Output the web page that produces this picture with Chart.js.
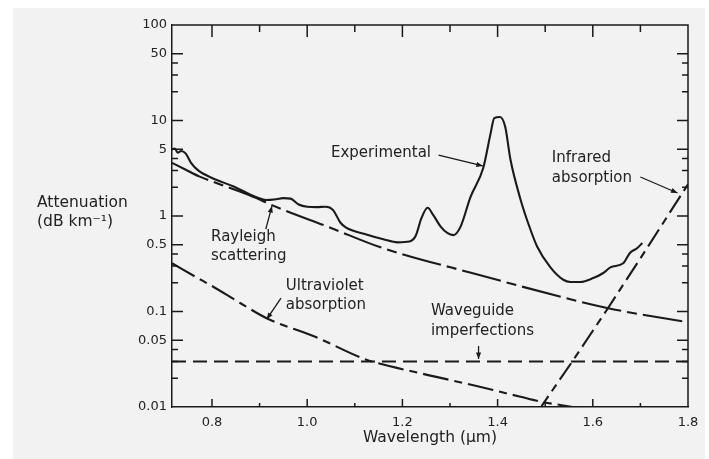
<!DOCTYPE html>
<html><head><meta charset="utf-8">
<script src="https://cdn.jsdelivr.net/npm/chart.js@4.4.1/dist/chart.umd.min.js"></script>
<style>html,body{margin:0;padding:0;background:#fff;}</style>
</head><body>
<canvas id="c" width="709" height="459"></canvas>
<script>
// ---- data ----
const expWavelength = [0.716,0.722,0.728,0.735,0.745,0.756,0.771,0.80,0.844,0.892,0.913,0.935,0.949,0.965,0.982,1.0,1.02,1.039,1.054,1.07,1.081,1.119,1.16,1.19,1.215,1.228,1.24,1.253,1.265,1.28,1.295,1.307,1.322,1.343,1.37,1.385,1.393,1.405,1.416,1.427,1.448,1.465,1.483,1.511,1.538,1.553,1.574,1.601,1.622,1.637,1.664,1.678,1.693,1.704];
const expAttenuation = [5.0,5.1,4.6,4.8,4.5,3.6,3.0,2.5,2.05,1.58,1.47,1.5,1.54,1.52,1.32,1.25,1.24,1.25,1.16,0.85,0.76,0.65,0.57,0.53,0.54,0.62,0.95,1.22,1.02,0.78,0.66,0.63,0.77,1.58,3.2,7.2,10.6,10.9,8.6,3.9,1.5,0.82,0.48,0.29,0.215,0.204,0.204,0.224,0.253,0.29,0.32,0.41,0.46,0.52];

const rayleighWavelength = [0.716,0.745,0.773,0.844,0.892,0.926,1.05,1.154,1.35,1.63,1.8];
const rayleighAttenuation = [3.6,3.05,2.6,1.92,1.55,1.3,0.75,0.47,0.25,0.109,0.077];

const uvWavelength = [0.716,0.777,0.8,0.86,0.917,1.018,1.123,1.239,1.358,1.448,1.494,1.568,1.59];
const uvAttenuation = [0.32,0.214,0.185,0.122,0.084,0.054,0.0315,0.0225,0.0165,0.0128,0.0113,0.0098,0.0093];

const irWavelength = [1.485,1.494,1.559,1.63,1.70,1.8];
const irAttenuation = [0.0086,0.0105,0.031,0.105,0.36,2.15];

const waveguideWavelength = [0.716,1.8];
const waveguideAttenuation = [0.03,0.03];

const xTickLabels = [0.8,1.0,1.2,1.4,1.6,1.8];
const xTickMarks = [0.8,0.9,1.0,1.1,1.2,1.3,1.4,1.5,1.6,1.7];
const yTickLabels = [100,50,10,5,1,0.5,0.1,0.05,0.01];
const yTickMarks = [50,40,30,20,10,5,4,3,2,1,0.5,0.4,0.3,0.2,0.1,0.05,0.04,0.03,0.02];

// ---- styling ----
const FONT = '"DejaVu Sans", "Open Sans", sans-serif';
const INK = '#1a1a1a';
const TEXT = '#222222';

const pts = (xs, ys) => xs.map((x, i) => ({x: x, y: ys[i]}));

// annotations given in data coordinates (wavelength, attenuation)
const annotations = [
  {texts: [['Experimental', 1.05, 4.57]], arrow: [[1.276, 4.35], [1.369, 3.34]]},
  {texts: [['Infrared', 1.514, 4.05], ['absorption', 1.514, 2.5]], arrow: [[1.700, 2.56], [1.778, 1.74]]},
  {texts: [['Rayleigh', 0.798, 0.60], ['scattering', 0.798, 0.381]], arrow: [[0.913, 0.73], [0.926, 1.27]]},
  {texts: [['Ultraviolet', 0.955, 0.185], ['absorption', 0.955, 0.117]], arrow: [[0.945, 0.138], [0.915, 0.083]]},
  {texts: [['Waveguide', 1.26, 0.101], ['imperfections', 1.26, 0.0625]], arrow: [[1.36, 0.0435], [1.36, 0.0318]]}
];

function drawArrow(ctx, x1, y1, x2, y2) {
  ctx.beginPath(); ctx.moveTo(x1, y1); ctx.lineTo(x2, y2); ctx.stroke();
  const a = Math.atan2(y2 - y1, x2 - x1), h = 7;
  ctx.beginPath();
  ctx.moveTo(x2, y2);
  ctx.lineTo(x2 - h * Math.cos(a - 0.38), y2 - h * Math.sin(a - 0.38));
  ctx.lineTo(x2 - h * Math.cos(a + 0.38), y2 - h * Math.sin(a + 0.38));
  ctx.closePath(); ctx.fill();
}

const decor = {
  id: 'decor',
  beforeDraw(chart) {
    const c = chart.ctx;
    c.save();
    c.fillStyle = '#ffffff'; c.fillRect(0, 0, chart.width, chart.height);
    c.fillStyle = '#f2f2f2'; c.fillRect(13, 8, 692, 451);
    c.restore();
  },
  afterDraw(chart) {
    const ctx = chart.ctx, a = chart.chartArea, x = chart.scales.x, y = chart.scales.y;
    ctx.save();
    ctx.strokeStyle = INK; ctx.fillStyle = INK; ctx.lineWidth = 1.5;
    // top and right frame
    ctx.beginPath(); ctx.moveTo(a.left, a.top); ctx.lineTo(a.right, a.top); ctx.lineTo(a.right, a.bottom); ctx.stroke();
    // x tick marks (bottom + top, inward)
    xTickMarks.forEach(v => {
      const px = x.getPixelForValue(v);
      const major = xTickLabels.some(t => Math.abs(t - v) < 1e-6);
      ctx.beginPath();
      ctx.moveTo(px, a.bottom); ctx.lineTo(px, a.bottom - (major ? 8 : 4));
      ctx.moveTo(px, a.top); ctx.lineTo(px, a.top + (major ? 12 : 7));
      ctx.stroke();
    });
    // y tick marks (left + right, inward)
    yTickMarks.forEach(v => {
      const py = y.getPixelForValue(v);
      const major = yTickLabels.some(t => Math.abs(t - v) < 1e-9);
      const len = major ? 11 : 6;
      ctx.beginPath();
      ctx.moveTo(a.left, py); ctx.lineTo(a.left + len, py);
      ctx.moveTo(a.right, py); ctx.lineTo(a.right - len, py);
      ctx.stroke();
    });
    // annotations
    ctx.fillStyle = TEXT;
    ctx.font = '15px ' + FONT;
    ctx.textAlign = 'left'; ctx.textBaseline = 'middle';
    annotations.forEach(an => {
      an.texts.forEach(t => ctx.fillText(t[0], x.getPixelForValue(t[1]), y.getPixelForValue(t[2])));
      const p1 = an.arrow[0], p2 = an.arrow[1];
      ctx.strokeStyle = INK; ctx.fillStyle = INK; ctx.lineWidth = 1.3;
      drawArrow(ctx, x.getPixelForValue(p1[0]), y.getPixelForValue(p1[1]), x.getPixelForValue(p2[0]), y.getPixelForValue(p2[1]));
      ctx.fillStyle = TEXT;
    });
    // y axis title (horizontal, left of axis)
    ctx.fillStyle = TEXT;
    ctx.font = '15.5px ' + FONT;
    ctx.fillText('Attenuation', 37, 203);
    ctx.fillText('(dB km\u207B\u00B9)', 37, 222);
    ctx.restore();
  }
};

const lineBase = {pointRadius: 0, borderColor: INK, borderWidth: 2.1, fill: false};

new Chart(document.getElementById('c'), {
  type: 'line',
  data: {
    datasets: [
      Object.assign({label: 'Experimental', data: pts(expWavelength, expAttenuation), cubicInterpolationMode: 'monotone'}, lineBase),
      Object.assign({label: 'Rayleigh scattering', data: pts(rayleighWavelength, rayleighAttenuation), cubicInterpolationMode: 'monotone', borderDash: [40, 6, 10, 6]}, lineBase),
      Object.assign({label: 'Ultraviolet absorption', data: pts(uvWavelength, uvAttenuation), cubicInterpolationMode: 'monotone', borderDash: [26, 6, 8, 6]}, lineBase),
      Object.assign({label: 'Infrared absorption', data: pts(irWavelength, irAttenuation), borderDash: [20, 6, 8, 6]}, lineBase),
      Object.assign({label: 'Waveguide imperfections', data: pts(waveguideWavelength, waveguideAttenuation), borderDash: [14, 7]}, lineBase)
    ]
  },
  options: {
    responsive: false,
    animation: false,
    events: [],
    layout: {padding: {top: 25, right: 21, left: 0, bottom: 0}},
    plugins: {legend: {display: false}, tooltip: {enabled: false}},
    scales: {
      x: {
        type: 'linear', min: 0.716, max: 1.8,
        afterBuildTicks: s => { s.ticks = xTickLabels.map(v => ({value: v})); },
        afterFit: s => { s.height = 52; },
        grid: {display: false, drawTicks: false},
        border: {display: true, color: INK, width: 1.5},
        ticks: {autoSkip: false, maxRotation: 0, padding: 8, color: TEXT, font: {family: FONT, size: 13},
                callback: v => Number(v).toFixed(1)},
        title: {display: true, text: 'Wavelength (\u03BCm)', color: TEXT, font: {family: FONT, size: 15.5},
                padding: {top: 0, bottom: 12}}
      },
      y: {
        type: 'logarithmic', min: 0.01, max: 100,
        afterBuildTicks: s => { s.ticks = yTickLabels.map(v => ({value: v})); },
        afterFit: s => { s.width = 172; },
        grid: {display: false, drawTicks: false},
        border: {display: true, color: INK, width: 1.5},
        ticks: {autoSkip: false, padding: 5, color: TEXT, font: {family: FONT, size: 13},
                callback: v => String(v)}
      }
    }
  },
  plugins: [decor]
});
</script>
</body></html>
